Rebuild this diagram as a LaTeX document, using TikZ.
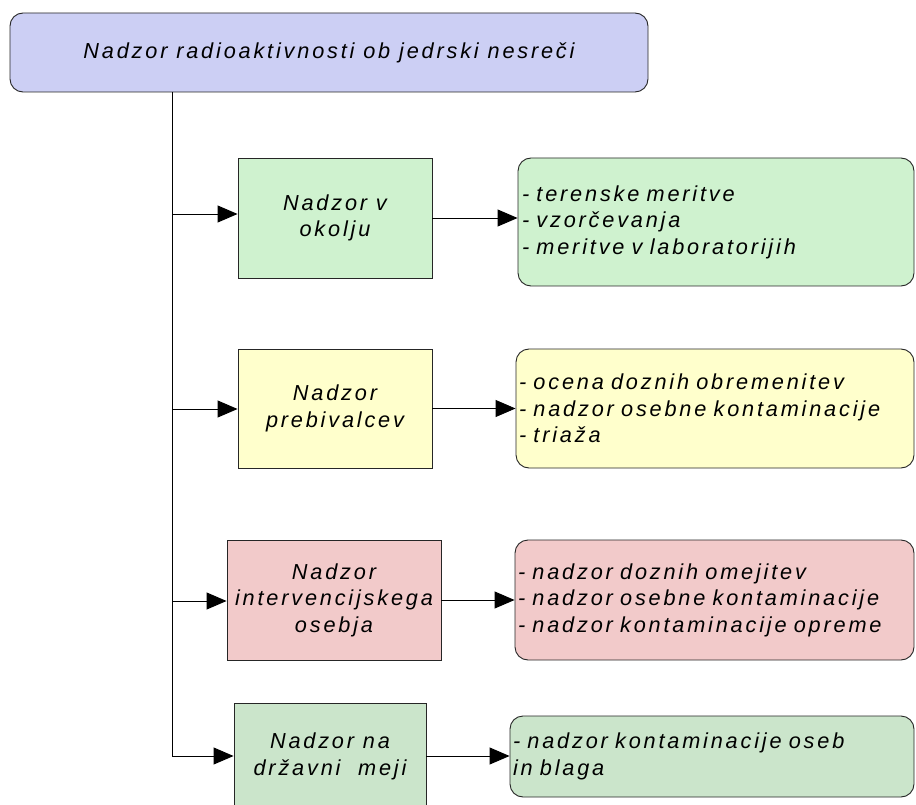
\documentclass[tikz,border=0pt]{standalone}
\usepackage{fontspec}
\setmainfont{Liberation Sans}[LetterSpace=13]
\usetikzlibrary{arrows.meta}
\begin{document}
\begin{tikzpicture}[x=1pt,y=-1pt,
  every node/.style={font=\fontsize{21.7}{26.5}\selectfont\itshape, text=black, inner sep=0pt},
  box/.style={draw=black!85, line width=0.9pt, align=center},
  rbox/.style={draw=black!85, line width=0.9pt, rounded corners=13pt, align=left},
  conn/.style={draw=black, line width=0.9pt},
  arr/.style={conn, -{Triangle[length=20pt,width=17pt]}}]
\definecolor{cblue}{HTML}{CCCFF4}
\definecolor{cgreen}{HTML}{CFF2CF}
\definecolor{cyellow}{HTML}{FFFFCC}
\definecolor{cpink}{HTML}{F2CACA}
\definecolor{cgreenb}{HTML}{CBE5CB}
\useasboundingbox (0,0) rectangle (916,805);
\node[rbox, fill=cblue, minimum width=638pt, minimum height=79pt] (top) at (329,52.5) {Nadzor radioaktivnosti ob jedrski nesreči};

\node[box, fill=cgreen, minimum width=194pt, minimum height=120pt] (b1) at (335,218) {Nadzor v\\okolju};
\node[box, fill=cyellow, minimum width=194pt, minimum height=119pt] (b2) at (335,408.5) {Nadzor\\prebivalcev};
\node[box, fill=cpink, minimum width=214pt, minimum height=120pt] (b3) at (334,600) {Nadzor\\intervencijskega\\osebja};
\node[box, fill=cgreenb, minimum width=192pt, minimum height=112pt, text depth=0pt] (b4) at (330,759) {};
\node (b4t) at (330,756.5) [align=center] {Nadzor na\\državni\ \ meji};

\node[rbox, fill=cgreen, minimum width=396pt, minimum height=128pt, text width=388pt] (r1) at (716,222) {- terenske meritve\\- vzorčevanja\\- meritve v laboratorijih};
\node[rbox, fill=cyellow, minimum width=398pt, minimum height=119pt, text width=392pt] (r2) at (715,408.5) {- ocena doznih obremenitev\\- nadzor osebne kontaminacije\\- triaža};
\node[rbox, fill=cpink, minimum width=399pt, minimum height=120pt, text width=393pt] (r3) at (714.5,600) {- nadzor doznih omejitev\\- nadzor osebne kontaminacije\\- nadzor kontaminacije opreme};
\node[rbox, fill=cgreenb, minimum width=404pt, minimum height=81pt, text width=398pt] (r4) at (712,756.5) {- nadzor kontaminacije oseb\\in blaga};

\coordinate (t0) at (172,92);
\coordinate (j1) at (172,214);
\coordinate (j2) at (172,409);
\coordinate (j3) at (172,601);
\coordinate (j4) at (172,756);
\draw[conn] (t0) -- (j4);
\draw[arr] (j1) -- (j1 -| b1.west);
\draw[arr] (j2) -- (j2 -| b2.west);
\draw[arr] (j3) -- (j3 -| b3.west);
\draw[arr] (j4) -- (j4 -| b4.west);
\draw[arr] (b1.east) -- (b1.east -| r1.west);
\draw[arr] (b2.east) -- (b2.east -| r2.west);
\draw[arr] (b3.east) -- (b3.east -| r3.west);
\draw[arr] (b4.east |- j4) -- (j4 -| r4.west);
\end{tikzpicture}
\end{document}
